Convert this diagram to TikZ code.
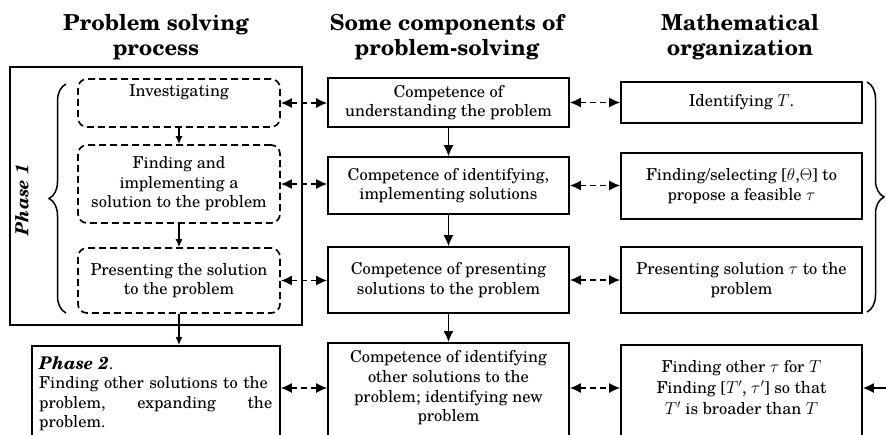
\documentclass[tikz,border=0pt]{standalone}
\usepackage{fontspec}
\setmainfont{texgyreschola}[Extension=.otf, UprightFont=*-regular, BoldFont=*-bold, ItalicFont=*-italic, BoldItalicFont=*-bolditalic]
\usetikzlibrary{arrows.meta,decorations.pathreplacing}
\tikzset{
  body/.style={font=\fontsize{16.4}{19.6}\selectfont, align=center},
  solidbox/.style={draw, line width=1.6pt, body, inner sep=0pt},
  dbox/.style={draw, line width=1.7pt, rounded corners=9pt, dash pattern=on 7pt off 4pt, body, inner sep=0pt},
  hdr/.style={font=\fontsize{22}{25}\selectfont\bfseries, align=center},
  conn/.style={line width=1.5pt, dash pattern=on 6pt off 4pt, {Latex[length=11pt,width=10pt]}-{Latex[length=11pt,width=10pt]}},
  downarrow/.style={line width=1.5pt, -{Latex[length=11pt,width=10pt]}},
  smallarrow/.style={line width=1.3pt, -{Latex[length=8pt,width=7pt]}},
  bracestyle/.style={line width=1.5pt, decorate, decoration={brace, amplitude=17pt}}
}
\begin{document}
\begin{tikzpicture}[x=1pt,y=-1pt]
\useasboundingbox (0,0) rectangle (886,434);
% headers
\node[hdr] (h1) at (156,37) {Problem solving\\process};
\node[hdr] (h2) at (447,37) {Some components of\\problem-solving};
\node[hdr] (h3) at (740,37) {Mathematical\\organization};
% phase 1 frame
\node[draw, line width=1.6pt, minimum width=292pt, minimum height=258pt, inner sep=0pt] (p1) at (156,196) {};
\node[rotate=90, font=\fontsize{18}{20}\selectfont\bfseries\itshape] (ph1) at (22,200) {Phase 1};
% left dashed boxes
\node[dbox, minimum width=202pt, minimum height=48pt] (d1) at (179,103) {};
\node[body] (d1t) at (179,92) {Investigating};
\node[dbox, minimum width=202pt, minimum height=78pt] (d2) at (179,184) {Finding and\\implementing a\\solution to the problem};
\node[dbox, minimum width=202pt, minimum height=65pt] (d3) at (179,280.5) {Presenting the solution\\to the problem};
% phase 2
\node[draw, line width=1.6pt, minimum width=248pt, minimum height=110pt, inner sep=0pt, anchor=north] (p2) at (156,345) {};
\node[body, text width=233pt, align=left, anchor=north west, inner sep=0pt] (p2t) at (39,356) {{\fontsize{17.5}{19.6}\selectfont\textbf{\textit{Phase 2}}}.\\Finding other solutions to the\\problem,\hfill expanding\hfill the\\problem.};
% middle column
\node[solidbox, minimum width=241pt, minimum height=49pt] (m1) at (448.5,102.5) {Competence of\\understanding the problem};
\node[solidbox, minimum width=241pt, minimum height=57pt] (m2) at (448.5,185.5) {Competence of identifying,\\implementing solutions};
\node[solidbox, minimum width=241pt, minimum height=66pt] (m3) at (448.5,280) {Competence of presenting\\solutions to the problem};
\node[solidbox, minimum width=241pt, minimum height=110pt, anchor=north] (m4) at (448.5,342) {};
\node[body] (m4t) at (448.5,388) {Competence of identifying\\other solutions to the\\problem; identifying new\\problem};
% right column
\node[solidbox, minimum width=241pt, minimum height=41pt] (r1) at (741.5,102.5) {Identifying $T$.};
\node[solidbox, minimum width=241pt, minimum height=66pt] (r2) at (741.5,186) {Finding/selecting [$\theta$,$\Theta$] to\\propose a feasible $\tau$};
\node[solidbox, minimum width=241pt, minimum height=66pt] (r3) at (741.5,280) {Presenting solution $\tau$ to the\\problem};
\node[solidbox, minimum width=241pt, minimum height=110pt, anchor=north] (r4) at (741.5,344) {};
\node[body, font=\fontsize{16.4}{21}\selectfont] (r4t) at (741.5,388) {Finding other $\tau$ for $T$\\Finding [$T'$, $\tau'$] so that\\$T'$ is broader than $T$};
% braces
\draw[bracestyle] (66,313) -- (66,84);
\draw[bracestyle] (867,82) -- (867,312);
% left vertical arrows
\draw[smallarrow] (d1.south) -- (d2.north);
\draw[smallarrow] (d2.south) -- (d3.north);
\draw[smallarrow] (d3.south) -- (d3.south |- p2.north);
% middle vertical arrows
\draw[downarrow] (m1.south) -- (m2.north);
\draw[downarrow] (m2.south) -- (m3.north);
\draw[downarrow] (m3.south) -- (m4.north);
% left-middle connectors
\draw[conn] (d1.east) -- (d1.east -| m1.west);
\draw[conn] (d2.east) -- (d2.east -| m2.west);
\draw[conn] (d3.east) -- (d3.east -| m3.west);
\draw[conn] (p2.east |- m4t) -- (m4.west |- m4t);
% middle-right connectors
\draw[conn] (m1.east) -- (m1.east -| r1.west);
\draw[conn] (m2.east) -- (m2.east -| r2.west);
\draw[conn] (m3.east) -- (m3.east -| r3.west);
\draw[conn] (m4.east |- r4t) -- (r4.west |- r4t);
% far right
\coordinate (fr) at (887,388);
\draw[downarrow] (fr) -- (r4.east |- fr);
\end{tikzpicture}
\end{document}
